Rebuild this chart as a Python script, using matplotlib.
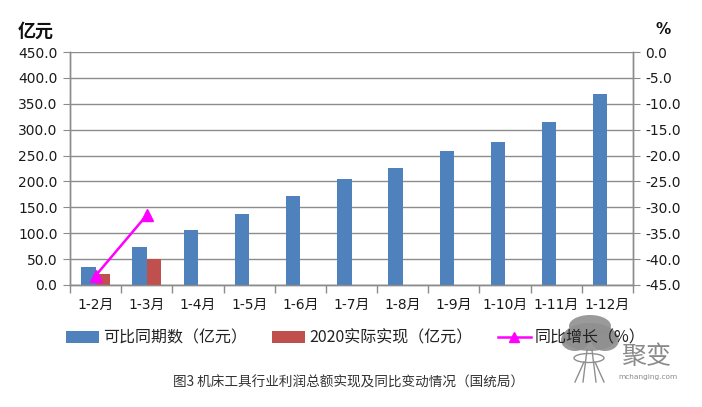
import matplotlib
matplotlib.use("Agg")
import matplotlib.pyplot as plt
import numpy as np
from matplotlib.patches import Patch, Ellipse
from matplotlib.lines import Line2D

plt.rcParams['font.family'] = ['DejaVu Sans', 'Noto Sans CJK SC']

categories = ["1-2月", "1-3月", "1-4月", "1-5月", "1-6月", "1-7月", "1-8月",
              "1-9月", "1-10月", "1-11月", "1-12月"]
comparable = [35, 73, 106, 137, 172, 205, 226, 259, 276, 315, 369]
actual_2020 = [21, 50]
growth_pct = [-43.2, -31.5]

blue = "#4F81BD"
red = "#C0504D"
magenta = "#FF00FF"
grid_c = "#8C8C8C"

W, H = 702, 407
fig = plt.figure(figsize=(W/100, H/100), dpi=100)
ax = fig.add_axes([70/W, 1-285/H, (633-70)/W, (285-52)/H])
ax2 = ax.twinx()

x = np.arange(len(categories))
w = 0.28
ax.bar(x - w/2, comparable, width=w, color=blue, zorder=3)
ax.bar(x[:len(actual_2020)] + w/2, actual_2020, width=w, color=red, zorder=3)

ax.set_ylim(0, 450)
ax.set_yticks(np.arange(0, 451, 50))
ax.set_yticklabels([f"{v:.1f}" for v in np.arange(0, 451, 50)])
ax.set_xlim(-0.5, len(categories) - 0.5)
ax.set_xticks(x)
ax.set_xticklabels(categories)
ax.set_xticks(np.arange(-0.5, len(categories), 1), minor=True)
ax.tick_params(axis='x', which='major', length=0, pad=9, labelsize=10, colors='#1a1a1a')
ax.tick_params(axis='x', which='minor', length=6, color=grid_c, width=1)
ax.tick_params(axis='y', length=5, color=grid_c, pad=4, labelsize=10, labelcolor='#1a1a1a')
ax.grid(axis='y', color=grid_c, linewidth=1, zorder=0)
ax.set_axisbelow(True)

ax2.set_ylim(-45, 0)
ticks2 = np.arange(-45, 0.1, 5)
ax2.set_yticks(ticks2)
ax2.set_yticklabels([f"{v:.1f}" for v in ticks2])
ax2.tick_params(axis='y', length=5, color=grid_c, pad=4, labelsize=10, labelcolor='#1a1a1a')
ax2.plot(x[:len(growth_pct)], growth_pct, color=magenta, linewidth=1.8, marker='^',
         markersize=8, zorder=5)

for a in (ax, ax2):
    a.spines['top'].set_visible(False)
    for s in ('left', 'right', 'bottom'):
        a.spines[s].set_color(grid_c)
        a.spines[s].set_linewidth(1)

fig.text(18/W, 1-31/H, "亿元", fontsize=13, fontweight='bold',
         family=['Noto Sans CJK SC'], va='center', ha='left', color='#111111')
fig.text(655/W, 1-30/H, "%", fontsize=11, fontweight='bold', va='center',
         ha='left', color='#111111')

# watermark tree
tree_c = "#8f8f8f"
for cx, cy, ew, eh in [(590, 337, 54, 28), (575, 340, 28, 22), (605, 340, 28, 22),
                       (590, 326, 42, 22)]:
    fig.add_artist(Ellipse((cx/W, 1-cy/H), ew/W, eh/H, transform=fig.transFigure,
                           facecolor=tree_c, edgecolor='none', alpha=0.9, zorder=0))
for (x0, y0, x1, y1) in [(587, 350, 583, 382), (592, 350, 596, 382),
                         (584, 362, 575, 382), (595, 362, 604, 382)]:
    fig.add_artist(Line2D([x0/W, x1/W], [1-y0/H, 1-y1/H], transform=fig.transFigure,
                          color=tree_c, linewidth=1, zorder=0))
fig.add_artist(Ellipse((589/W, 1-358/H), 30/W, 9/H, transform=fig.transFigure,
                       facecolor='none', edgecolor=tree_c, linewidth=1, zorder=0))

handles = [Patch(facecolor=blue, edgecolor='none'),
           Patch(facecolor=red, edgecolor='none'),
           Line2D([0], [0], color=magenta, linewidth=1.8, marker='^', markersize=7)]
labels = ["可比同期数（亿元）", "2020实际实现（亿元）", "同比增长（%）"]
leg = fig.legend(handles, labels, loc='center left', bbox_to_anchor=(66/W, 1-338/H),
                 ncol=3, frameon=False, handlelength=2.05, handleheight=0.75,
                 columnspacing=1.6, handletextpad=0.25, borderpad=0, borderaxespad=0,
                 prop={'family': ['Noto Sans CJK SC'], 'size': 11.5})
for t in leg.get_texts():
    t.set_color('#222222')

fig.text(349/W, 1-383/H, "图3 机床工具行业利润总额实现及同比变动情况（国统局）",
         fontsize=9.8, family=['Noto Sans CJK SC'], ha='center', va='center',
         color='#333333')

fig.text(646/W, 1-357/H, "聚变", fontsize=18, family=['Noto Sans CJK SC'],
         ha='center', va='center', color='#8a8a8a')
fig.text(648/W, 1-377/H, "mchanging.com", fontsize=5.3, ha='center', va='center',
         color='#8a8a8a')

fig.savefig("out.png", dpi=100)
